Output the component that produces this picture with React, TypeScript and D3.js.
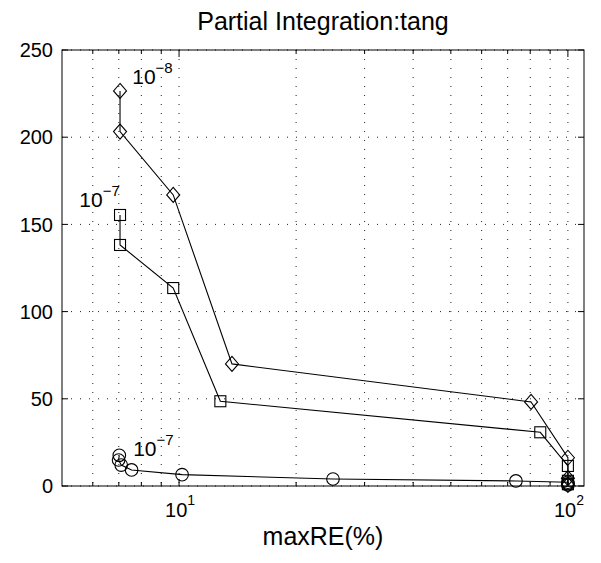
import React from "react";
import * as d3 from "d3";

// ---- data ----
const diamondX = [7.05, 7.05, 9.66, 13.68, 80.4, 100, 100, 100];
const diamondY = [226.5, 203.2, 166.9, 70, 48.2, 16.2, 4.5, 0.6];

const squareX = [7.05, 7.05, 9.66, 12.77, 84.9, 100, 100, 100];
const squareY = [155.4, 138.2, 113.5, 48.6, 30.8, 11.5, 3, 1];

const circleX = [7.02, 6.99, 7.1, 7.55, 10.18, 24.88, 73.5, 100, 100, 100];
const circleY = [17.6, 14.9, 12.0, 9.2, 6.5, 4.0, 2.9, 2.2, 1.3, 0.6];

const yTicks = [0, 50, 100, 150, 200, 250];
const xMajorTicks = [10, 100];
const xMajorLabels = ["1", "2"];
const xMinorTicks = [6, 7, 8, 9, 20, 30, 40, 50, 60, 70, 80, 90];

// annotation labels: [x, y, exponent]
const annX = [7.58, 5.54, 7.62];
const annY = [230.5, 160, 17.2];
const annExp = ["\u22128", "\u22127", "\u22127"];

const title = "Partial Integration:tang";
const xLabel = "maxRE(%)";

const W = 601;
const H = 563;
const M = { left: 62, right: 584, top: 50, bottom: 486 };
const FONT = "'Liberation Sans', Arial, Helvetica, sans-serif";

export default function App() {
  const x = d3.scaleLog().domain([5, 110]).range([M.left, M.right]);
  const y = d3.scaleLinear().domain([0, 250]).range([M.bottom, M.top]);
  const line = d3
    .line<[number, number]>()
    .x((d) => x(d[0]))
    .y((d) => y(d[1]));

  const dPts: [number, number][] = diamondX.map((v, i) => [v, diamondY[i]]);
  const sPts: [number, number][] = squareX.map((v, i) => [v, squareY[i]]);
  const cPts: [number, number][] = circleX.map((v, i) => [v, circleY[i]]);

  const gridStyle = { stroke: "#222", strokeWidth: 1, strokeDasharray: "1,8" };
  const allX = [...xMinorTicks, ...xMajorTicks];

  return (
    <svg
      width={W}
      height={H}
      style={{ position: "absolute", left: 0, top: 0, background: "#fff" }}
      fontFamily={FONT}
    >
      <rect x={0} y={0} width={W} height={H} fill="#fff" />
      {/* grid */}
      {allX.map((t) => (
        <line key={"gx" + t} x1={x(t)} x2={x(t)} y1={M.top} y2={M.bottom} style={gridStyle} />
      ))}
      {yTicks.map((t) => (
        <line key={"gy" + t} x1={M.left} x2={M.right} y1={y(t)} y2={y(t)} style={gridStyle} />
      ))}
      {/* ticks */}
      {yTicks.map((t) => (
        <g key={"ty" + t}>
          <line x1={M.left} x2={M.left + 6} y1={y(t)} y2={y(t)} stroke="#000" />
          <line x1={M.right} x2={M.right - 6} y1={y(t)} y2={y(t)} stroke="#000" />
          <text x={53} y={y(t)} dy="0.36em" textAnchor="end" fontSize={20}>
            {t}
          </text>
        </g>
      ))}
      {xMajorTicks.map((t, i) => (
        <g key={"tx" + t}>
          <line x1={x(t)} x2={x(t)} y1={M.bottom} y2={M.bottom - 7} stroke="#000" />
          <line x1={x(t)} x2={x(t)} y1={M.top} y2={M.top + 7} stroke="#000" />
          <text x={x(t) - 14} y={517} fontSize={20}>
            10
            <tspan fontSize={14} dy={-12}>
              {xMajorLabels[i]}
            </tspan>
          </text>
        </g>
      ))}
      {xMinorTicks.map((t) => (
        <g key={"tm" + t}>
          <line x1={x(t)} x2={x(t)} y1={M.bottom} y2={M.bottom - 4} stroke="#000" />
          <line x1={x(t)} x2={x(t)} y1={M.top} y2={M.top + 4} stroke="#000" />
        </g>
      ))}
      {/* box */}
      <rect
        x={M.left}
        y={M.top}
        width={M.right - M.left}
        height={M.bottom - M.top}
        fill="none"
        stroke="#000"
        strokeWidth={1}
      />
      {/* lines */}
      <path d={line(dPts) || ""} fill="none" stroke="#000" strokeWidth={1.1} />
      <path d={line(sPts) || ""} fill="none" stroke="#000" strokeWidth={1.1} />
      <path d={line(cPts) || ""} fill="none" stroke="#000" strokeWidth={1.1} />
      {/* markers */}
      {dPts.map((p, i) => {
        const cx = x(p[0]);
        const cy = y(p[1]);
        return (
          <path
            key={"dm" + i}
            d={`M${cx},${cy - 7.5}L${cx + 6.5},${cy}L${cx},${cy + 7.5}L${cx - 6.5},${cy}Z`}
            fill="none"
            stroke="#000"
            strokeWidth={1.1}
          />
        );
      })}
      {sPts.map((p, i) => (
        <rect
          key={"sm" + i}
          x={x(p[0]) - 5.5}
          y={y(p[1]) - 5.5}
          width={11}
          height={11}
          fill="none"
          stroke="#000"
          strokeWidth={1.1}
        />
      ))}
      {cPts.map((p, i) => (
        <circle key={"cm" + i} cx={x(p[0])} cy={y(p[1])} r={6.3} fill="none" stroke="#000" strokeWidth={1.1} />
      ))}
      {/* annotations */}
      {annX.map((v, i) => (
        <text key={"an" + i} x={x(v)} y={y(annY[i])} fontSize={21}>
          10
          <tspan fontSize={15} dy={-11}>
            {annExp[i]}
          </tspan>
        </text>
      ))}
      {/* title & label */}
      <text x={(M.left + M.right) / 2} y={30} textAnchor="middle" fontSize={25}>
        {title}
      </text>
      <text x={(M.left + M.right) / 2} y={545} textAnchor="middle" fontSize={25}>
        {xLabel}
      </text>
    </svg>
  );
}
